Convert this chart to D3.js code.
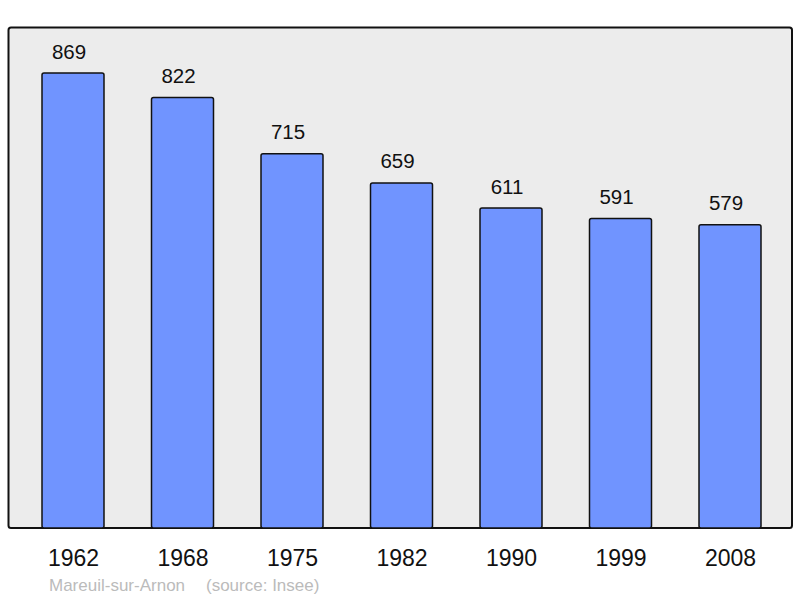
<!DOCTYPE html>
<html><head><meta charset="utf-8">
<script src="https://cdn.jsdelivr.net/npm/d3@7"></script>
<style>body{margin:0;background:#fff}svg{display:block}</style>
</head><body>
<script>
const years = ["1962","1968","1975","1982","1990","1999","2008"];
const population = [869,822,715,659,611,591,579];
const placeName = "Mareuil-sur-Arnon";
const sourceText = "(source: Insee)";

const W = 800, H = 598;
const font = "Liberation Sans, Arial, sans-serif";
const panel = {x0: 8.5, y0: 27.5, x1: 792, y1: 528};
const svg = d3.select("body").append("svg").attr("width", W).attr("height", H);

svg.append("rect").attr("x", panel.x0).attr("y", panel.y0)
  .attr("width", panel.x1 - panel.x0).attr("height", panel.y1 - panel.y0)
  .attr("rx", 2.5).attr("fill", "#ececec").attr("stroke", "#111").attr("stroke-width", 2);

const x = d3.scalePoint().domain(years).range([73, 730]);
const y = d3.scaleLinear().domain([0, d3.max(population) * 1.1]).range([panel.y1, panel.y0]);
const bw = 62;

const data = years.map((yr, i) => ({yr, v: population[i]}));

svg.selectAll("rect.bar").data(data).enter().append("rect")
  .attr("class", "bar")
  .attr("x", d => x(d.yr) - bw/2).attr("y", d => y(d.v))
  .attr("width", bw).attr("height", d => y(0) - y(d.v))
  .attr("rx", 2).attr("fill", "#7094ff").attr("stroke", "#111").attr("stroke-width", 1.5);

svg.selectAll("text.val").data(data).enter().append("text")
  .attr("class", "val")
  .attr("x", d => x(d.yr) - 4).attr("y", d => y(d.v) - 14.5)
  .attr("text-anchor", "middle").attr("font-family", font)
  .attr("font-size", 20.5).attr("fill", "#111").text(d => d.v);

const xAxis = d3.axisBottom(x).tickSize(0).tickPadding(0);
const ax = svg.append("g").attr("transform", `translate(0,565.5)`).call(xAxis);
ax.select(".domain").remove();
ax.selectAll("text").attr("font-family", font)
  .attr("font-size", 23).attr("fill", "#111").attr("dy", 0).attr("y", 0);

svg.append("text").attr("x", 49).attr("y", 590.5)
  .attr("font-family", font).attr("font-size", 17)
  .attr("fill", "#bbbbbb").text(placeName);
svg.append("text").attr("x", 206).attr("y", 590.5)
  .attr("font-family", font).attr("font-size", 17)
  .attr("fill", "#bbbbbb").text(sourceText);
</script>
</body></html>
